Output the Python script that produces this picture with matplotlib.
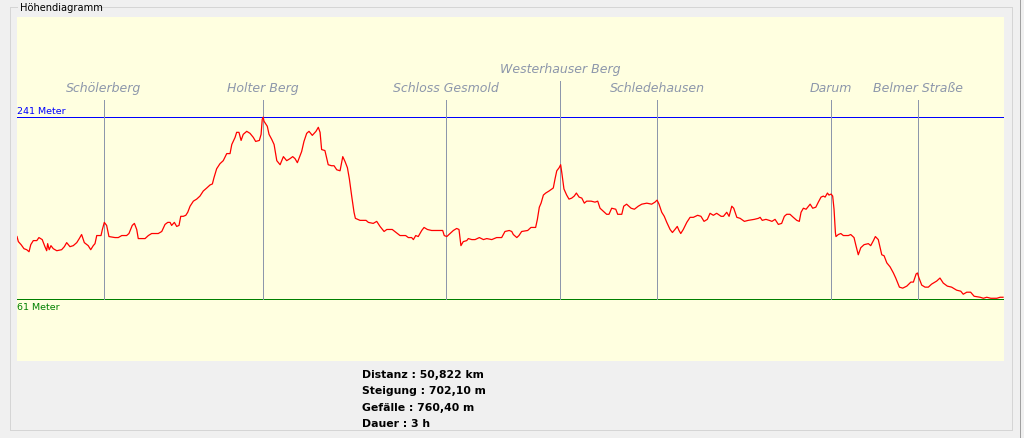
import matplotlib.pyplot as plt

# elevation profile, distance in km / height in m
dist_km = [0.00, 0.07, 0.21, 0.36, 0.50, 0.62, 0.71, 0.84, 1.02, 1.13, 1.30, 1.44, 1.53, 1.58, 1.66,
           1.75, 1.87, 2.05, 2.30, 2.44, 2.56, 2.73, 2.90, 3.08, 3.21, 3.33, 3.47, 3.67, 3.80, 3.93,
           4.02, 4.11, 4.33, 4.40, 4.50, 4.62, 4.74, 5.05, 5.22, 5.40, 5.65, 5.77, 5.94, 6.05, 6.17,
           6.25, 6.60, 6.77, 6.94, 7.28, 7.46, 7.63, 7.77, 7.89, 7.97, 8.11, 8.23, 8.35, 8.44, 8.57,
           8.70, 8.80, 8.92, 9.09, 9.26, 9.43, 9.60, 9.78, 9.95, 10.07, 10.15, 10.29, 10.46, 10.63,
           10.81, 10.98, 11.07, 11.24, 11.32, 11.44, 11.55, 11.66, 11.84, 12.01, 12.18, 12.30, 12.49,
           12.58, 12.64, 12.69, 12.73, 12.90, 12.99, 13.13, 13.25, 13.39, 13.56, 13.73, 13.90, 14.07,
           14.21, 14.33, 14.45, 14.67, 14.79, 14.93, 15.05, 15.22, 15.41, 15.53, 15.62, 15.70, 15.87,
           16.04, 16.21, 16.34, 16.48, 16.65, 16.79, 16.91, 17.03, 17.13, 17.25, 17.37, 17.44, 17.68,
           17.99, 18.11, 18.36, 18.54, 18.71, 18.92, 19.06, 19.34, 19.54, 19.74, 20.03, 20.17, 20.34,
           20.43, 20.55, 20.68, 20.86, 20.98, 21.15, 21.37, 21.66, 21.80, 21.94, 22.02, 22.15, 22.32,
           22.49, 22.66, 22.78, 22.88, 23.00, 23.18, 23.26, 23.44, 23.61, 23.83, 24.04, 24.21, 24.47,
           24.72, 24.98, 25.15, 25.37, 25.50, 25.58, 25.76, 25.87, 26.01, 26.32, 26.49, 26.73, 26.82,
           26.92, 27.01, 27.13, 27.25, 27.42, 27.64, 27.73, 27.82, 27.94, 28.02, 28.08, 28.19, 28.33,
           28.45, 28.59, 28.72, 28.83, 28.97, 29.11, 29.24, 29.36, 29.59, 29.79, 29.93, 30.05, 30.22,
           30.39, 30.51, 30.65, 30.86, 30.96, 31.17, 31.27, 31.42, 31.65, 31.82, 32.02, 32.20, 32.46,
           32.71, 32.88, 32.99, 33.09, 33.23, 33.36, 33.49, 33.66, 33.78, 33.91, 34.03, 34.12, 34.21,
           34.34, 34.52, 34.69, 34.86, 35.08, 35.25, 35.41, 35.58, 35.72, 35.89, 36.06, 36.29, 36.41,
           36.58, 36.70, 36.84, 36.94, 37.10, 37.27, 37.49, 37.69, 38.00, 38.21, 38.30, 38.41, 38.60,
           38.77, 38.91, 39.07, 39.24, 39.41, 39.55, 39.67, 39.84, 40.01, 40.19, 40.32, 40.41, 40.53,
           40.67, 40.88, 41.01, 41.17, 41.30, 41.44, 41.56, 41.65, 41.77, 41.85, 41.96, 42.04, 42.11,
           42.18, 42.21, 42.33, 42.46, 42.59, 42.85, 42.97, 43.14, 43.24, 43.36, 43.49, 43.66, 43.88,
           44.00, 44.14, 44.24, 44.39, 44.57, 44.69, 44.83, 45.00, 45.17, 45.29, 45.48, 45.65, 45.86,
           46.07, 46.20, 46.34, 46.41, 46.49, 46.63, 46.80, 46.97, 47.14, 47.40, 47.57, 47.74, 47.95,
           48.17, 48.43, 48.64, 48.77, 48.95, 49.15, 49.33, 49.64, 49.81, 49.98, 50.19, 50.50, 50.67,
           50.82]
elev_m = [123, 118, 115, 111, 110, 108, 115, 119, 119, 122, 120, 113, 109, 116, 110,
          114, 111, 109, 110, 113, 117, 113, 114, 117, 121, 125, 117, 114, 110, 114,
          116, 124, 124, 130, 137, 134, 123, 122, 122, 124, 124, 126, 134, 136, 130,
          121, 121, 124, 126, 126, 128, 135, 137, 137, 134, 137, 133, 134, 143, 143,
          144, 147, 153, 158, 160, 163, 168, 171, 174, 175, 181, 190, 195, 198,
          205, 205, 214, 221, 226, 226, 218, 224, 227, 225, 221, 217, 218,
          224, 239, 241, 237, 232, 224, 219, 214, 198, 194, 202, 198, 200,
          202, 200, 196, 207, 217, 225, 227, 223, 227, 231, 226, 209, 208,
          194, 193, 193, 189, 188, 202, 197, 191, 180, 163, 147, 141, 139,
          139, 137, 136, 138, 133, 128, 130, 130, 127, 124, 124, 122, 122,
          120, 124, 123, 129, 132, 130, 129, 129, 129, 129, 124, 123, 126,
          129, 131, 130, 114, 118, 119, 121, 120, 120, 122, 120, 121, 120,
          122, 122, 128, 129, 128, 125, 122, 124, 128, 129, 132, 132, 140,
          152, 156, 164, 166, 168, 171, 180, 188, 191, 194, 186, 170, 164,
          160, 161, 163, 166, 162, 161, 156, 158, 158, 157, 158, 151, 148,
          145, 145, 151, 150, 145, 145, 153, 155, 151, 150, 153, 155, 156,
          155, 157, 159, 155, 147, 143, 137, 130, 127, 130, 133, 129, 126,
          130, 137, 142, 142, 144, 143, 138, 140, 146, 144, 146, 143, 143,
          147, 143, 153, 151, 142, 141, 138, 139, 140, 141, 142, 139, 140,
          139, 138, 140, 135, 136, 143, 145, 145, 142, 139, 138, 147, 151,
          150, 155, 151, 152, 157, 162, 163, 162, 166, 164, 165, 163, 150,
          127, 123, 125, 126, 124, 124, 125, 122, 114, 105, 112, 115, 116,
          114, 119, 123, 120, 105, 104, 97, 93, 87, 82, 73, 72, 74,
          78, 78, 86, 87, 82, 75, 73, 73, 76, 79, 82, 77, 74,
          73, 70, 69, 66, 68, 68, 64, 63, 62, 63, 62, 62, 63,
          63]

waypoints = ['Schölerberg', 'Holter Berg', 'Schloss Gesmold', 'Westerhauser Berg',
             'Schledehausen', 'Darum', 'Belmer Straße']
waypoint_km = [4.48, 12.68, 22.11, 27.99, 32.99, 41.96, 46.44]
waypoint_raised = [False, False, False, True, False, False, False]

max_elev = 241
min_elev = 61
stats = ['Distanz : 50,822 km', 'Steigung : 702,10 m', 'Gefälle : 760,40 m', 'Dauer : 3 h']


def main():
    fig = plt.figure(figsize=(10.24, 4.39), dpi=100, facecolor='#f0f0f0')

    # window / group box decoration, in pixel coords
    bg = fig.add_axes([0, 0, 1, 1])
    bg.set_xlim(0, 1024)
    bg.set_ylim(439, 0)
    bg.axis('off')
    frame = '#d5d5d5'
    bg.plot([17, 9.5, 9.5, 1011.5, 1011.5, 99], [7.5, 7.5, 431.5, 431.5, 7.5, 7.5],
            color=frame, lw=0.7, antialiased=False)
    bg.plot([1019.5, 1019.5], [0, 439], color='#a0a0a0', lw=0.7, antialiased=False)
    bg.text(20, 8, 'Höhendiagramm', fontsize=7.1, va='center', ha='left', color='black')
    for i, s in enumerate(stats):
        bg.text(362, 375 + i * 16.5, s, fontsize=7.8, fontweight='bold',
                va='center', ha='left', color='black')

    ax = fig.add_axes([17 / 1024, 1 - 362 / 439, 987 / 1024, 344 / 439])
    ax.set_facecolor('#ffffe0')
    for sp in ax.spines.values():
        sp.set_visible(False)
    ax.set_xticks([])
    ax.set_yticks([])
    ax.set_xlim(0, 50.87)
    ax.set_ylim(0, 340)

    ax.axhline(max_elev, color='#0000ff', lw=0.7, antialiased=False)
    ax.axhline(min_elev, color='#008000', lw=0.7, antialiased=False)
    ax.text(0.02, max_elev + 2, '%d Meter' % max_elev, color='#0000ff', fontsize=6.8,
            va='bottom', ha='left')
    ax.text(0.02, min_elev - 3, '%d Meter' % min_elev, color='#008000', fontsize=6.8,
            va='top', ha='left')

    gray = '#8d97ab'
    for name, km, up in zip(waypoints, waypoint_km, waypoint_raised):
        top = max_elev + (35.5 if up else 16.5)
        ax.plot([km, km], [min_elev, top], color=gray, lw=0.7, antialiased=False)
        ax.text(km, top + 12.5, name, color=gray, fontsize=9, style='italic',
                ha='center', va='center')

    ax.plot(dist_km, elev_m, color='red', lw=0.9)

    fig.savefig('out.png', dpi=100, facecolor=fig.get_facecolor())


if __name__ == '__main__':
    main()
